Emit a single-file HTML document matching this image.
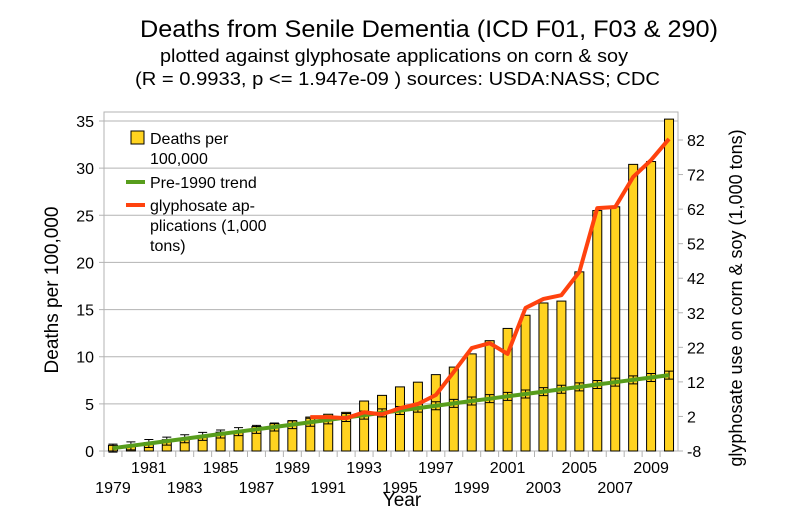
<!DOCTYPE html>
<html><head><meta charset="utf-8"><style>
body{margin:0;background:#fff}
svg{display:block;font-family:"Liberation Sans",sans-serif}
</style></head><body>
<svg id="c" width="793" height="529" viewBox="0 0 793 529">
<text x="140" y="37" font-size="24" textLength="578" lengthAdjust="spacingAndGlyphs">Deaths from Senile Dementia (ICD F01, F03 &amp; 290)</text>
<text x="160" y="62" font-size="18" textLength="468" lengthAdjust="spacingAndGlyphs">plotted against glyphosate applications on corn &amp; soy</text>
<text x="135" y="85" font-size="18" textLength="525" lengthAdjust="spacingAndGlyphs">(R = 0.9933, p &lt;= 1.947e-09 ) sources: USDA:NASS; CDC</text>
<g id="grid"></g><g id="bars"></g><g id="lines"></g><g id="axes"></g>
<text x="402" y="506" font-size="19" text-anchor="middle">Year</text>
<text transform="translate(58,290) rotate(-90)" font-size="19" text-anchor="middle">Deaths per 100,000</text>
<text transform="translate(742,298) rotate(-90)" font-size="18" text-anchor="middle">glyphosate use on corn &amp; soy (1,000 tons)</text>
<g>
<rect x="131" y="131" width="13" height="13" fill="#ffd320" stroke="#000"/>
<text x="150" y="144" font-size="16">Deaths per</text>
<text x="150" y="164" font-size="16">100,000</text>
<line x1="126" y1="182" x2="145" y2="182" stroke="#579d1c" stroke-width="4"/>
<text x="150" y="188" font-size="16">Pre-1990 trend</text>
<line x1="126" y1="205" x2="145" y2="205" stroke="#ff420e" stroke-width="4"/>
<text x="150" y="211" font-size="16">glyphosate ap-</text>
<text x="150" y="231" font-size="16">plications (1,000</text>
<text x="150" y="251" font-size="16">tons)</text>
</g>
</svg>
<script>
const years=[1979,1980,1981,1982,1983,1984,1985,1986,1987,1988,1989,1990,1991,1992,1993,1994,1995,1996,1997,1998,1999,2000,2001,2002,2003,2004,2005,2006,2007,2008,2009,2010];
const deaths=[0.6,0.6,0.9,1.2,1.3,1.6,2.0,2.1,2.6,2.9,3.2,3.6,3.9,4.1,5.3,5.9,6.8,7.3,8.1,8.9,10.3,11.7,13.0,14.4,15.7,15.9,19.0,25.5,25.9,30.4,30.7,35.2];
const trend=[0.3,0.55,0.8,1.05,1.3,1.55,1.8,2.05,2.3,2.55,2.8,3.05,3.3,3.55,3.8,4.05,4.3,4.55,4.8,5.05,5.3,5.55,5.8,6.05,6.3,6.55,6.8,7.05,7.3,7.55,7.8,8.05];
const glyYears=[1990,1991,1992,1993,1994,1995,1996,1997,1998,1999,2000,2001,2002,2003,2004,2005,2006,2007,2008,2009,2010];
const gly=[1.8,1.8,1.5,3.2,2.6,4.4,5.6,8.2,14.9,21.8,23.2,20.1,33.4,36.0,37.1,43.8,62.3,62.6,71.3,76.2,82.3];
const yTicks=[0,5,10,15,20,25,30,35];
const y2Ticks=[-8,2,12,22,32,42,52,62,72,82];
const L=104,R=678,T=112,B=451;
const NS="http://www.w3.org/2000/svg";
const cw=(R-L)/years.length;
const xc=i=>L+(i+0.5)*cw;
const y=v=>B-v*(B-121)/35;
const y2=v=>B-(v+8)*(B-140)/90;
function el(t,a,p){const e=document.createElementNS(NS,t);for(const k in a)e.setAttribute(k,a[k]);document.getElementById(p).appendChild(e);return e;}
const fr=el('rect',{x:L,y:T,width:R-L,height:B-T,fill:'none',stroke:'#b3b3b3'},'grid');


yTicks.forEach(t=>{
 const g=el('line',{x1:L-5,x2:R,y1:y(t),y2:y(t),stroke:'#b3b3b3'},'grid');
 
 
 const tx=el('text',{x:L-10,y:y(t)+6,'font-size':16,'text-anchor':'end'},'axes');tx.textContent=t;
 
 
});
y2Ticks.forEach(t=>{
 const g=el('line',{x1:R,x2:R+5,y1:y2(t),y2:y2(t),stroke:'#b3b3b3'},'grid');
 
 
 const tx=el('text',{x:R+9,y:y2(t)+6,'font-size':16},'axes');tx.textContent=t;
 
 
});
years.forEach((yr,i)=>{
 const g=el('line',{x1:L+i*cw,x2:L+i*cw,y1:B,y2:B+6,stroke:'#b3b3b3'},'grid');
 
 
 if(yr%2===1){
  const tx=el('text',{x:xc(i),y:((yr-1979)%4===0)?493:473,'font-size':16,'text-anchor':'middle'},'axes');tx.textContent=yr;
  
  
 }
});
deaths.forEach((d,i)=>{
 const b=el('rect',{x:xc(i)-4.5,y:y(d),width:9,height:B-y(d),fill:'#ffd320',stroke:'#000'},'bars');
 
 
});
let tp=trend.map((v,i)=>xc(i)+','+y(v)).join(' ');
trend.forEach((v,i)=>{
 const e=el('path',{d:`M${xc(i)},${y(v)-4}V${y(v)+4}M${xc(i)-4.5},${y(v)-4}H${xc(i)+4.5}M${xc(i)-4.5},${y(v)+4}H${xc(i)+4.5}`,stroke:'#000',fill:'none','stroke-width':1},'lines');
 
 
});
const tl=el('polyline',{points:tp,fill:'none',stroke:'#579d1c','stroke-width':4},'lines');


const gp=gly.map((v,i)=>xc(years.indexOf(glyYears[i]))+','+y2(v)).join(' ');
const gl=el('polyline',{points:gp,fill:'none',stroke:'#ff420e','stroke-width':4,'stroke-linejoin':'round'},'lines');


</script>
</body></html>
